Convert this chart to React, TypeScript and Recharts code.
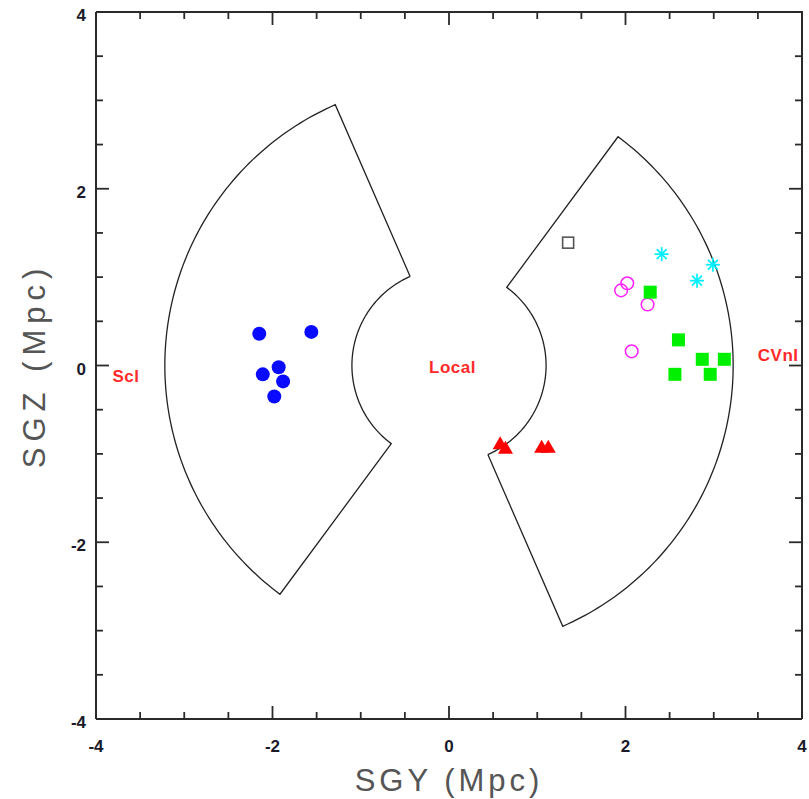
import React from "react";
import { ScatterChart, Scatter, XAxis, YAxis } from "recharts";

// ---- data ----
const sclPoints = [
  { x: -2.15, y: 0.36 },
  { x: -1.56, y: 0.38 },
  { x: -1.93, y: -0.02 },
  { x: -2.11, y: -0.1 },
  { x: -1.88, y: -0.18 },
  { x: -1.98, y: -0.35 },
];
const greenSquares = [
  { x: 2.28, y: 0.83 },
  { x: 2.6, y: 0.29 },
  { x: 2.87, y: 0.07 },
  { x: 3.12, y: 0.07 },
  { x: 2.56, y: -0.1 },
  { x: 2.96, y: -0.1 },
];
const magentaCircles = [
  { x: 1.95, y: 0.85 },
  { x: 2.02, y: 0.93 },
  { x: 2.25, y: 0.69 },
  { x: 2.07, y: 0.16 },
];
const cyanStars = [
  { x: 2.41, y: 1.26 },
  { x: 2.99, y: 1.14 },
  { x: 2.81, y: 0.96 },
];
const graySquares = [{ x: 1.35, y: 1.39 }];
const redTriangles = [
  { x: 0.58, y: -0.88 },
  { x: 0.64, y: -0.93 },
  { x: 1.05, y: -0.92 },
  { x: 1.125, y: -0.92 },
];
const groupLabels = [
  { x: -3.66, y: -0.12, name: "Scl" },
  { x: 0.04, y: -0.02, name: "Local" },
  { x: 3.73, y: 0.12, name: "CVnI" },
];

const axisTicks = [-4, -3.5, -3, -2.5, -2, -1.5, -1, -0.5, 0, 0.5, 1, 1.5, 2, 2.5, 3, 3.5, 4];
const majorTicks = [-4, -2, 0, 2, 4];
const axisMin = -4;
const axisMax = 4;

// sector geometry (Mpc, degrees)
const innerRadius = 1.1;
const outerRadius = 3.22;
const sectorAngles = [
  [-66.4, 53.5],
  [113.6, 233.5],
];

function sectorOutline(a1: number, a2: number) {
  const pts: { x: number; y: number }[] = [];
  const rad = (d: number) => (d * Math.PI) / 180;
  const n = Math.ceil(a2 - a1);
  for (let i = 0; i <= n; i++) {
    const a = a1 + ((a2 - a1) * i) / n;
    pts.push({ x: innerRadius * Math.cos(rad(a)), y: innerRadius * Math.sin(rad(a)) });
  }
  for (let i = n; i >= 0; i--) {
    const a = a1 + ((a2 - a1) * i) / n;
    pts.push({ x: outerRadius * Math.cos(rad(a)), y: outerRadius * Math.sin(rad(a)) });
  }
  pts.push({ x: innerRadius * Math.cos(rad(a1)), y: innerRadius * Math.sin(rad(a1)) });
  return pts;
}
const sectors = sectorAngles.map(([a1, a2]) => sectorOutline(a1, a2));

// top / right frame and its ticks, built from the axis limits and tick list
const frameTopRight = [
  { x: axisMin, y: axisMax },
  { x: axisMax, y: axisMax },
  { x: axisMax, y: axisMin },
];
const topTicks = axisTicks.map((v) => ({ x: v, y: axisMax, v }));
const rightTicks = axisTicks.map((v) => ({ x: axisMax, y: v, v }));

// ---- styling helpers ----
const FRAME = "#2a2a2a";
const isMajor = (v: number) => majorTicks.includes(v);
const tickLen = (v: number) => (isMajor(v) ? 13 : 7);
const tickFont = { fontFamily: "Liberation Sans, Arial, sans-serif", fontSize: 17, fontWeight: 700, fill: "#1a1a2a" };

const BottomTick = (p: any) => {
  const v = p.payload.value;
  return (
    <g>
      <line x1={p.x} x2={p.x} y1={p.y} y2={p.y - tickLen(v)} stroke={FRAME} strokeWidth={1.8} />
      {isMajor(v) && (
        <text x={p.x} y={p.y + 33} textAnchor="middle" {...tickFont}>
          {String(v)}
        </text>
      )}
    </g>
  );
};
const LeftTick = (p: any) => {
  const v = p.payload.value;
  return (
    <g>
      <line x1={p.x} x2={p.x + tickLen(v)} y1={p.y} y2={p.y} stroke={FRAME} strokeWidth={1.8} />
      {isMajor(v) && (
        <text x={p.x - 10} y={p.y + 9} textAnchor="end" {...tickFont}>
          {String(v)}
        </text>
      )}
    </g>
  );
};
const TopTickShape = (p: any) => (
  <line x1={p.cx} x2={p.cx} y1={p.cy} y2={p.cy + tickLen(p.payload.v)} stroke={FRAME} strokeWidth={1.8} />
);
const RightTickShape = (p: any) => (
  <line x1={p.cx} x2={p.cx - tickLen(p.payload.v)} y1={p.cy} y2={p.cy} stroke={FRAME} strokeWidth={1.8} />
);

const titleStyle = { fontFamily: "Liberation Sans, Arial, sans-serif", fontSize: 31, fill: "#555555" };

const XTitle = (props: any) => {
  const vb = props.viewBox;
  return (
    <text x={vb.x + vb.width / 2} y={vb.y + 72} textAnchor="middle" letterSpacing={4} {...titleStyle}>
      SGY (Mpc)
    </text>
  );
};
const YTitle = (props: any) => {
  const vb = props.viewBox;
  const cx = 45;
  const cy = vb.y + vb.height / 2;
  return (
    <text
      x={cx}
      y={cy}
      textAnchor="middle"
      letterSpacing={6}
      transform={`rotate(-90, ${cx}, ${cy})`}
      {...titleStyle}
    >
      SGZ (Mpc)
    </text>
  );
};

// ---- marker shapes ----
const BlueDot = (p: any) => <circle cx={p.cx} cy={p.cy} r={7} fill="#0a0aff" />;
const GreenSquare = (p: any) => <rect x={p.cx - 6.5} y={p.cy - 6.5} width={13} height={13} fill="#00f000" />;
const MagentaCircle = (p: any) => (
  <circle cx={p.cx} cy={p.cy} r={6.3} fill="none" stroke="#ff20ff" strokeWidth={1.5} />
);
const CyanStar = (p: any) => {
  const r = 7;
  const arms = [0, 45, 90, 135];
  return (
    <g stroke="#00f0ff" strokeWidth={1.7}>
      {arms.map((a) => {
        const dx = r * Math.cos((a * Math.PI) / 180);
        const dy = r * Math.sin((a * Math.PI) / 180);
        return <line key={a} x1={p.cx - dx} y1={p.cy - dy} x2={p.cx + dx} y2={p.cy + dy} />;
      })}
    </g>
  );
};
const GraySquare = (p: any) => (
  <rect x={p.cx - 5.5} y={p.cy - 5.5} width={11} height={11} fill="none" stroke="#555" strokeWidth={1.6} />
);
const RedTriangle = (p: any) => (
  <polygon
    points={`${p.cx},${p.cy - 7} ${p.cx - 7.5},${p.cy + 6} ${p.cx + 7.5},${p.cy + 6}`}
    fill="#ff0000"
  />
);
const GroupLabel = (p: any) => (
  <text
    x={p.cx}
    y={p.cy + 6}
    textAnchor="middle"
    fontFamily="Liberation Sans, Arial, sans-serif"
    fontSize={17}
    fontWeight={700}
    letterSpacing={0.5}
    fill="#ff2a2a"
  >
    {p.payload.name}
  </text>
);
const NoDot = () => <g />;

export default function App() {
  return (
    <div style={{ position: "absolute", left: 0, top: 0 }}>
      <ScatterChart width={809} height={799} margin={{ top: 12, right: 7, bottom: 0, left: 0 }}>
        <XAxis
          dataKey="x"
          type="number"
          domain={[axisMin, axisMax]}
          ticks={axisTicks}
          interval={0}
          height={80}
          tickSize={0}
          tickMargin={0}
          tick={<BottomTick />}
          axisLine={{ stroke: FRAME, strokeWidth: 2 }}
          label={<XTitle />}
        />
        <YAxis
          dataKey="y"
          type="number"
          domain={[axisMin, axisMax]}
          ticks={axisTicks}
          interval={0}
          width={96}
          tickSize={0}
          tickMargin={0}
          tick={<LeftTick />}
          axisLine={{ stroke: FRAME, strokeWidth: 2 }}
          label={<YTitle />}
        />
        <Scatter
          data={frameTopRight}
          line={{ stroke: FRAME, strokeWidth: 2 }}
          lineType="joint"
          shape={<NoDot />}
          isAnimationActive={false}
        />
        <Scatter data={topTicks} shape={<TopTickShape />} isAnimationActive={false} />
        <Scatter data={rightTicks} shape={<RightTickShape />} isAnimationActive={false} />
        {sectors.map((s, i) => (
          <Scatter
            key={i}
            data={s}
            line={{ stroke: "#222", strokeWidth: 1.3 }}
            lineType="joint"
            shape={<NoDot />}
            isAnimationActive={false}
          />
        ))}
        <Scatter data={sclPoints} shape={<BlueDot />} isAnimationActive={false} />
        <Scatter data={graySquares} shape={<GraySquare />} isAnimationActive={false} />
        <Scatter data={magentaCircles} shape={<MagentaCircle />} isAnimationActive={false} />
        <Scatter data={greenSquares} shape={<GreenSquare />} isAnimationActive={false} />
        <Scatter data={cyanStars} shape={<CyanStar />} isAnimationActive={false} />
        <Scatter data={redTriangles} shape={<RedTriangle />} isAnimationActive={false} />
        <Scatter data={groupLabels} shape={<GroupLabel />} isAnimationActive={false} />
      </ScatterChart>
    </div>
  );
}
